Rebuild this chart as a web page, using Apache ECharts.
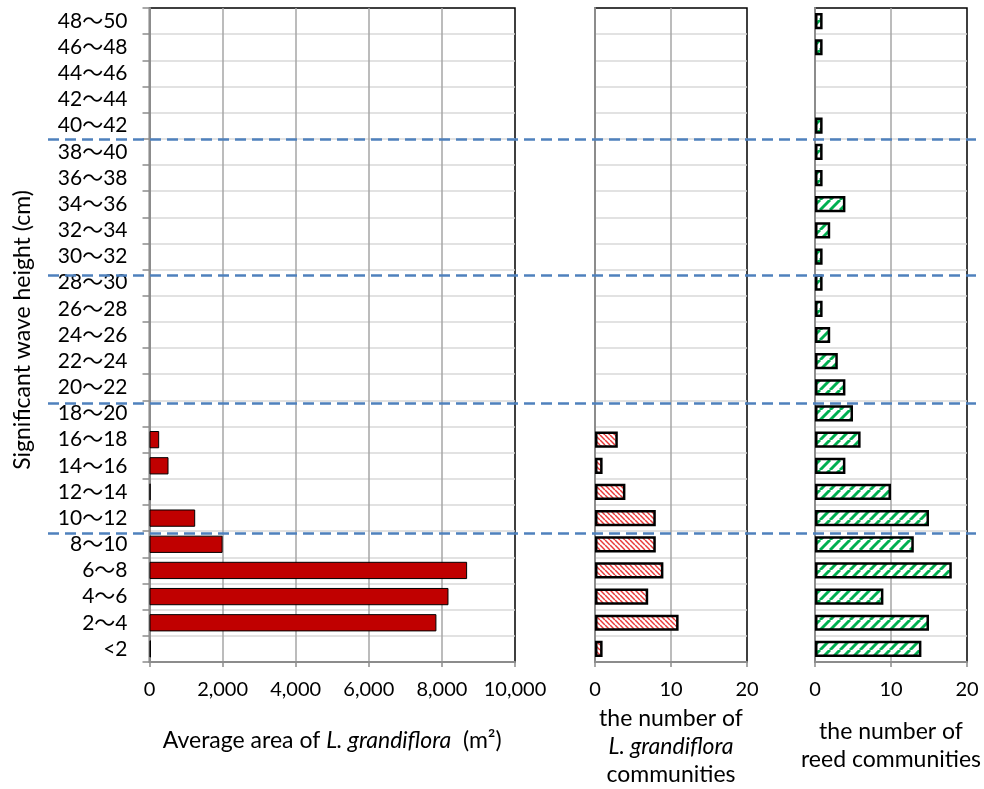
<!DOCTYPE html>
<html>
<head>
<meta charset="utf-8">
<script src="https://cdn.jsdelivr.net/npm/echarts@6/dist/echarts.min.js"></script>
<style>
  html, body { margin: 0; padding: 0; background: #fff; }
  #chart { width: 984px; height: 789px; }
</style>
</head>
<body>
<div id="chart"></div>
<script>
// wave height classes, bottom to top
const waveClasses = ['<2', '2～4', '4～6', '6～8', '8～10', '10～12', '12～14', '14～16', '16～18', '18～20',
  '20～22', '22～24', '24～26', '26～28', '28～30', '30～32', '32～34', '34～36', '36～38', '38～40',
  '40～42', '42～44', '44～46', '46～48', '48～50'];

// average area of L. grandiflora (m2)
const avgArea = [40, 7850, 8180, 8690, 2000, 1250, 30, 520, 265, 0,
  0, 0, 0, 0, 0, 0, 0, 0, 0, 0,
  0, 0, 0, 0, 0];

// number of L. grandiflora communities
const lgCount = [1, 11, 7, 9, 8, 8, 4, 1, 3, 0,
  0, 0, 0, 0, 0, 0, 0, 0, 0, 0,
  0, 0, 0, 0, 0];

// number of reed communities
const reedCount = [14, 15, 9, 18, 13, 15, 10, 4, 6, 5,
  4, 3, 2, 1, 1, 1, 2, 4, 1, 1,
  1, 0, 0, 1, 1];

// dashed separators, in category units from the bottom of the plot
const dashLevels = [4.93, 9.9, 14.8, 20.0];

const FONT = 'Lato, "Noto Sans", "Noto Sans CJK JP", sans-serif';
const GRAY = '#8c8c8c';

function stripes(size, color, width, dir) {
  const c = document.createElement('canvas');
  c.width = size; c.height = size;
  const g = c.getContext('2d');
  g.fillStyle = '#fff';
  g.fillRect(0, 0, size, size);
  g.strokeStyle = color;
  g.lineWidth = width;
  for (let k = -1; k <= 1; k++) {
    const x0 = k * size;
    g.beginPath();
    if (dir === 'back') {
      g.moveTo(x0, 0); g.lineTo(x0 + size, size);
    } else {
      g.moveTo(x0, size); g.lineTo(x0 + size, 0);
    }
    g.stroke();
  }
  return { image: c, repeat: 'repeat' };
}

const noZero = arr => arr.map(v => (v === 0 ? '-' : v));

function renderChart() {
  const chart = echarts.init(document.getElementById('chart'));

  const grids = [
    { left: 149.5, right: 469, top: 8, bottom: 127 },
    { left: 595, right: 237, top: 8, bottom: 127 },
    { left: 815, right: 17, top: 8, bottom: 127 },
    { left: 48, right: 8, top: 8, bottom: 127 },
  ].map(g => Object.assign({
    show: true,
    borderColor: '#000',
    borderWidth: 1.5,
    backgroundColor: 'transparent',
    outerBoundsMode: 'none',
  }, g));
  grids[3].show = false;

  const labelStyle = { color: '#000', fontSize: 20, fontFamily: FONT };
  const nameStyle = {
    color: '#000', fontSize: 23, fontFamily: FONT, lineHeight: 28,
    rich: {
      i: { fontStyle: 'italic', fontSize: 23, fontFamily: FONT, color: '#000', lineHeight: 28 },
    },
  };

  const valueX = (idx, max, interval, name, gap, fmt) => ({
    type: 'value',
    gridIndex: idx,
    min: 0,
    max: max,
    interval: interval,
    name: name,
    nameLocation: 'middle',
    nameGap: gap,
    nameTextStyle: nameStyle,
    axisLine: { show: true, lineStyle: { color: GRAY, width: 2 } },
    axisTick: { show: true, length: 5, lineStyle: { color: GRAY, width: 1.5 } },
    axisLabel: Object.assign({ margin: 18, formatter: fmt }, labelStyle),
    splitLine: { show: true, showMaxLine: false, lineStyle: { color: '#a6a6a6', width: 1.5 } },
  });

  const catY = (idx, withLabels) => ({
    type: 'category',
    gridIndex: idx,
    data: waveClasses,
    name: withLabels ? 'Significant wave height (cm)' : '',
    nameLocation: 'middle',
    nameGap: 115,
    nameRotate: 90,
    nameTextStyle: { color: '#000', fontSize: 23, fontFamily: FONT, padding: [0, 0, 0, 10] },
    axisLine: { show: true, lineStyle: { color: GRAY, width: 2 } },
    axisTick: { show: withLabels, length: 7, interval: 0, lineStyle: { color: GRAY, width: 1.5 } },
    axisLabel: Object.assign({}, labelStyle, { show: withLabels, interval: 0, margin: 22, fontSize: 21 }),
    splitLine: { show: true, showMaxLine: false, interval: 0, lineStyle: { color: '#d9d9d9', width: 1.5 } },
  });

  const option = {
    animation: false,
    backgroundColor: '#fff',
    grid: grids,
    xAxis: [
      valueX(0, 10000, 2000, 'Average area of {i|L. grandiflora}  (m²)', 65,
        v => v.toLocaleString('en-US')),
      valueX(1, 20, 10, 'the number of\n{i|L. grandiflora}\ncommunities', 42),
      valueX(2, 20, 10, 'the number of\nreed communities', 56),
      { type: 'value', gridIndex: 3, min: 0, max: 1, show: false },
    ],
    yAxis: [
      catY(0, true),
      catY(1, false),
      catY(2, false),
      { type: 'value', gridIndex: 3, min: 0, max: 25, show: false },
    ],
    series: [
      {
        name: 'Average area',
        type: 'bar',
        xAxisIndex: 0,
        yAxisIndex: 0,
        barWidth: '66%',
        data: noZero(avgArea),
        itemStyle: { color: '#c00000', borderColor: '#000', borderWidth: 1 },
      },
      {
        name: 'L. grandiflora communities',
        type: 'bar',
        xAxisIndex: 1,
        yAxisIndex: 1,
        barWidth: '62%',
        data: noZero(lgCount),
        itemStyle: { color: stripes(5, '#e83a3a', 1.5, 'back'), borderColor: '#000', borderWidth: 2.5 },
      },
      {
        name: 'reed communities',
        type: 'bar',
        xAxisIndex: 2,
        yAxisIndex: 2,
        barWidth: '62%',
        data: noZero(reedCount),
        itemStyle: { color: stripes(10, '#00b050', 3, 'fwd'), borderColor: '#000', borderWidth: 2.5 },
      },
      {
        name: 'separators',
        type: 'line',
        xAxisIndex: 3,
        yAxisIndex: 3,
        data: [[0, 0]],
        showSymbol: false,
        lineStyle: { width: 0 },
        silent: true,
        markLine: {
          silent: true,
          symbol: 'none',
          label: { show: false },
          lineStyle: { color: '#4f81bd', width: 2.5, type: [11, 6] },
          data: dashLevels.map(v => ({ yAxis: v })),
        },
      },
    ],
  };
  chart.setOption(option, true);
}

renderChart();
</script>
</body>
</html>
